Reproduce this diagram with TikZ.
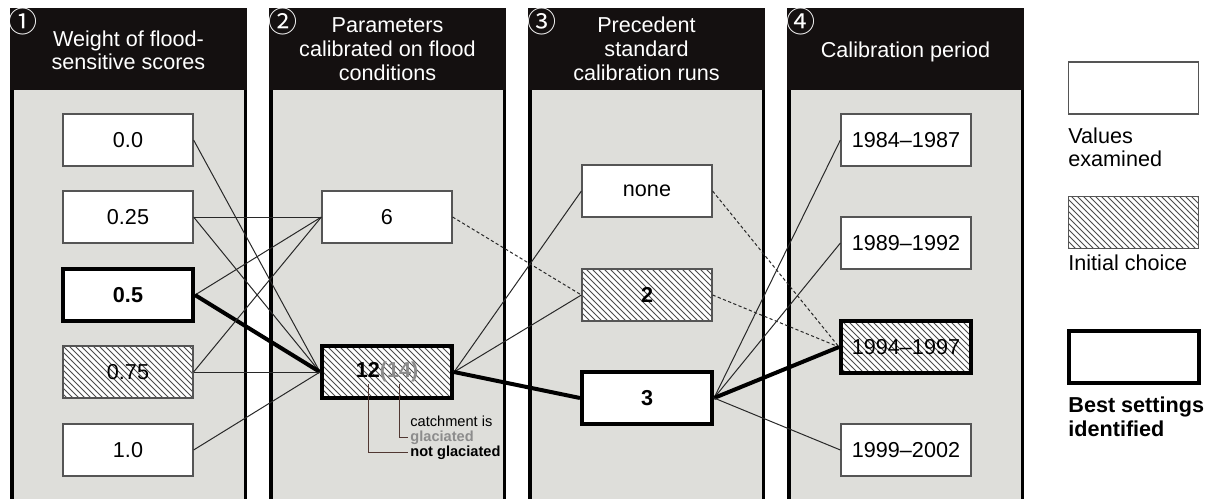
\documentclass[tikz,border=0pt]{standalone}
\usepackage{fontspec}
\setmainfont{Liberation Sans}
\newfontfamily\circfont{Noto Sans CJK SC}
\usetikzlibrary{patterns}
\definecolor{panelgray}{RGB}{222,222,218}
\definecolor{headblack}{RGB}{20,16,16}
\definecolor{boxline}{RGB}{85,85,85}
\definecolor{linkcol}{RGB}{40,40,40}
\definecolor{textgray}{RGB}{140,140,140}
\definecolor{notecol}{RGB}{80,55,50}
\begin{document}
\begin{tikzpicture}[x=0.5pt,y=-0.5pt,
  lbl/.style={font=\fontsize{10.8}{13}\selectfont},
  valbox/.style={lbl, draw=boxline, line width=0.6pt, fill=white, minimum width=65pt, minimum height=26pt, inner sep=0pt},
  hatchbox/.style={valbox, preaction={fill=white}, pattern=north west lines, pattern color=black!70},
  bestbox/.style={draw=black, line width=2pt},
  headtxt/.style={text=white, font=\fontsize{10.8}{13}\selectfont, anchor=base, inner sep=0pt},
  circ/.style={text=white, font=\circfont\fontsize{14.5}{16}\selectfont, inner sep=0pt},
  link/.style={draw=linkcol, line width=0.5pt},
  dlink/.style={link, dash pattern=on 1.6pt off 1.2pt},
  blink/.style={draw=black, line width=2pt},
  legtxt/.style={lbl, anchor=base west, inner sep=0pt},
  notetxt/.style={font=\fontsize{7.3}{8.5}\selectfont, anchor=base west, inner sep=0pt},
  noteline/.style={draw=notecol, line width=0.5pt}
]
\useasboundingbox (0,0) rectangle (1211,499);
% panels
\foreach \L in {10,269,528,787} {
  \fill[panelgray] (\L,90) rectangle ++(237,409);
  \fill[headblack] (\L,8) rectangle ++(237,82);
  \draw[line width=1.75pt] (\L+1.75,90) -- (\L+1.75,499);
  \draw[line width=1.75pt] (\L+235.25,90) -- (\L+235.25,499);
}
% circled numbers
\node[circ] (n1) at (23.5,21.5) {①};
\node[circ] (n2) at (282.5,21.5) {②};
\node[circ] (n3) at (541.5,21.5) {③};
\node[circ] (n4) at (800.5,21.5) {④};
% headers
\node[headtxt] (h1a) at (128.5,46) {Weight of flood-};
\node[headtxt] (h1b) at (128.5,69) {sensitive scores};
\node[headtxt] (h2a) at (387.5,32) {Parameters};
\node[headtxt] (h2b) at (387.5,56) {calibrated on flood};
\node[headtxt] (h2c) at (387.5,80) {conditions};
\node[headtxt] (h3a) at (646.5,32) {Precedent};
\node[headtxt] (h3b) at (646.5,56) {standard};
\node[headtxt] (h3c) at (646.5,80) {calibration runs};
\node[headtxt] (h4a) at (905.5,57) {Calibration period};
% boxes
\node[valbox] (a0) at (128,140) {0.0};
\node[valbox] (a1) at (128,217) {0.25};
\node[valbox,bestbox] (a2) at (128,295) {\bfseries 0.5};
\node[hatchbox] (a3) at (128,372) {0.75};
\node[valbox] (a4) at (128,450) {1.0};
\node[valbox] (b0) at (387,217) {6};
\node[hatchbox,bestbox] (b1) at (387,372) {\bfseries 12\textcolor{textgray}{(14)}};
\node[valbox] (c0) at (647,191) {none};
\node[hatchbox] (c1) at (647,295) {\bfseries 2};
\node[valbox,bestbox] (c2) at (647,398) {\bfseries 3};
\node[valbox] (d0) at (906,140) {1984–1987};
\node[valbox] (d1) at (906,243) {1989–1992};
\node[hatchbox,bestbox] (d2) at (906,347) {1994–1997};
\node[valbox] (d3) at (906,450) {1999–2002};
% links
\draw[link] (a0.east) -- (b1.west);
\draw[link] (a1.east) -- (b0.west);
\draw[link] (a1.east) -- (b1.west);
\draw[link] (a2.east) -- (b0.west);
\draw[blink] (a2.east) -- (b1.west);
\draw[link] (a3.east) -- (b0.west);
\draw[link] (a3.east) -- (b1.west);
\draw[link] (a4.east) -- (b1.west);
\draw[dlink] (b0.east) -- (c1.west);
\draw[link] (b1.east) -- (c0.west);
\draw[link] (b1.east) -- (c1.west);
\draw[blink] (b1.east) -- (c2.west);
\draw[dlink] (c0.east) -- (d2.west);
\draw[dlink] (c1.east) -- (d2.west);
\draw[link] (c2.east) -- (d0.west);
\draw[link] (c2.east) -- (d1.west);
\draw[blink] (c2.east) -- (d2.west);
\draw[link] (c2.east) -- (d3.west);
% annotation
\node[notetxt] (t0) at (410,426) {catchment is};
\node[notetxt,text=textgray] (t1) at (410,441) {\bfseries glaciated};
\node[notetxt] (t2) at (410,456) {\bfseries not glaciated};
\coordinate (k12) at (368,384);
\coordinate (k14) at (399,384);
\draw[noteline] (k12) |- ([xshift=-1pt]t2.west);
\draw[noteline] (k14) |- ([xshift=-1pt]t1.west);
% legend
\node[valbox] (l0) at (1133.5,88) {};
\node[legtxt] (l0a) at (1068,143) {Values};
\node[legtxt] (l0b) at (1068,166) {examined};
\node[hatchbox] (l1) at (1133.5,222.5) {};
\node[legtxt] (l1a) at (1068,270) {Initial choice};
\node[valbox,bestbox] (l2) at (1133.5,356.5) {};
\node[legtxt] (l2a) at (1068,412) {\bfseries Best settings};
\node[legtxt] (l2b) at (1068,436) {\bfseries identified};
\end{tikzpicture}
\end{document}
